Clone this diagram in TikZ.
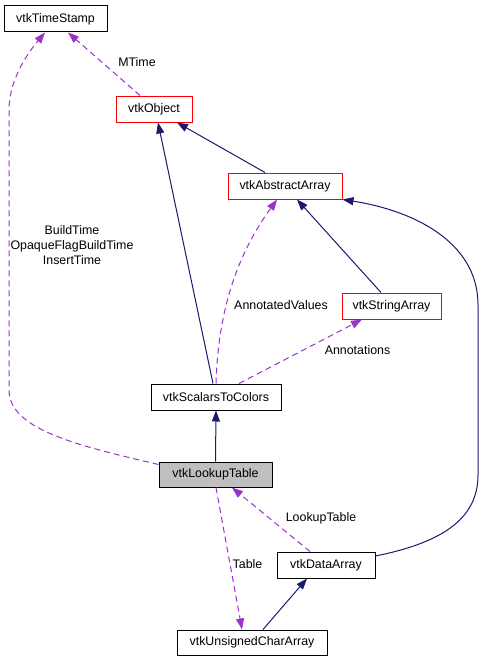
\documentclass[tikz,border=0pt]{standalone}
\usepackage{fontspec}
\setmainfont{Liberation Sans}
\usetikzlibrary{arrows.meta}
\definecolor{navyc}{HTML}{191970}
\definecolor{purplec}{HTML}{9A32CD}
\definecolor{redc}{HTML}{FF0000}
\definecolor{grayc}{HTML}{BFBFBF}
\begin{document}
\begin{tikzpicture}[x=1pt,y=-1pt,
  every node/.style={font=\fontsize{12.4}{15}\selectfont, inner sep=0pt},
  cls/.style={draw=black, line width=1pt, fill=white, minimum height=26pt},
  redcls/.style={cls, draw=redc},
  inh/.style={draw=navyc, line width=1pt, -{Triangle[length=11pt,width=8pt]}, color=navyc},
  use/.style={draw=purplec, line width=1pt, dash pattern=on 6pt off 4pt, -{Triangle[length=11pt,width=8pt]}, color=purplec},
  lbl/.style={align=center}]
\useasboundingbox (0,0) rectangle (484,661);
% nodes
\node[cls, minimum width=103pt] (ts) at (55.5,19) {vtkTimeStamp};
\node[redcls, minimum width=76pt] (obj) at (154,109) {vtkObject};
\node[redcls, minimum width=114pt] (aa) at (285,186) {vtkAbstractArray};
\node[redcls, minimum width=99pt] (sa) at (391.5,306) {vtkStringArray};
\node[cls, minimum width=130pt] (s2c) at (216,397) {vtkScalarsToColors};
\node[cls, minimum width=113pt, minimum height=25pt, fill=grayc] (lut) at (215.5,474.5) {vtkLookupTable};
\node[cls, minimum width=98pt] (da) at (326,565) {vtkDataArray};
\node[cls, minimum width=150pt, minimum height=25pt] (uca) at (252,642.5) {vtkUnsignedCharArray};
% labels
\node[lbl] (lmt) at (137,62) {MTime};
\node[lbl] (lbt) at (72,245) {BuildTime\\OpaqueFlagBuildTime\\InsertTime};
\node[lbl] (lav) at (281,305) {AnnotatedValues};
\node[lbl] (lan) at (357.5,350) {Annotations};
\node[lbl] (llt) at (321,518) {LookupTable};
\node[lbl] (ltb) at (247.5,564) {Table};
% edges
\draw[use] ([xshift=-14pt]obj.north) -- ([xshift=12.5pt]ts.south);
\draw[use] ([yshift=10pt]lut.west) .. controls (80,446) and (9,430) .. (9,390)
  -- (9,110) .. controls (9,85) and (22,60) .. ([xshift=-10.5pt]ts.south);
\draw[inh] ([xshift=-20pt]aa.north) -- ([xshift=23pt]obj.south);
\draw[inh] ([xshift=-3pt]s2c.north) -- ([xshift=4pt]obj.south);
\draw[inh] ([xshift=-10.5pt]sa.north) -- ([xshift=12pt]aa.south);
\draw[use] (s2c.north) .. controls (218,320) and (232,262) .. ([xshift=-8pt]aa.south);
\draw[use] ([xshift=23pt]s2c.north) -- ([xshift=-29.5pt]sa.south);
\draw[inh] (lut.north) -- (s2c.south);
\draw[inh] ([yshift=9pt]da.east) .. controls (440,543) and (478,520) .. (478,475)
  -- (478,305) .. controls (478,240) and (410,210) .. (aa.south east);
\draw[use] ([xshift=-16pt]da.north) -- ([xshift=16.5pt]lut.south);
\draw[use] ([xshift=0.5pt]lut.south) -- ([xshift=-10pt]uca.north);
\draw[inh] ([xshift=11pt]uca.north) -- ([xshift=-19pt]da.south);
\end{tikzpicture}
\end{document}
